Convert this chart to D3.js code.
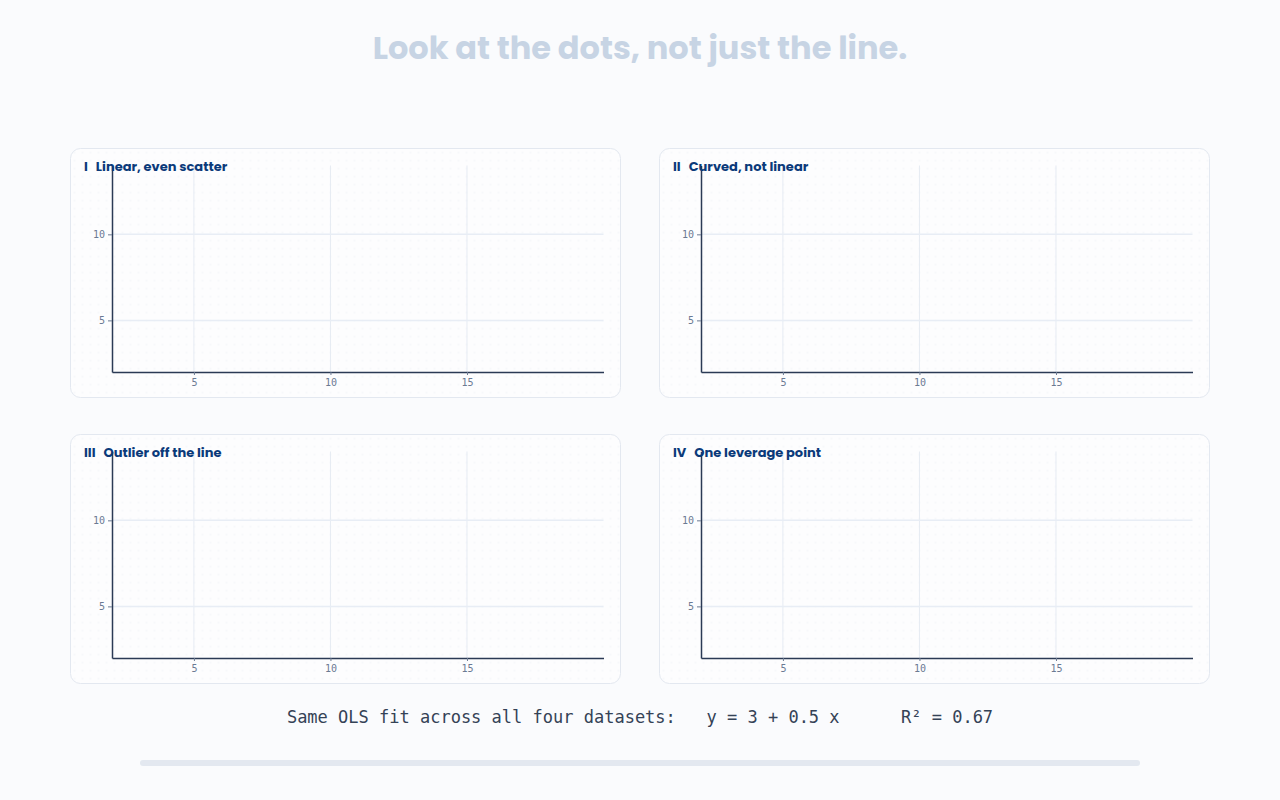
<!DOCTYPE html>
<html>
<head>
<meta charset="utf-8">
<script src="https://cdn.jsdelivr.net/npm/d3@7"></script>
<style>
  html, body { margin: 0; padding: 0; background: #fafbfd; }
  svg { display: block; }
</style>
</head>
<body>
<svg id="chart" width="1280" height="800"></svg>
<script>
// ---- data (Anscombe's quartet) ----
const panelNumerals = ["I", "II", "III", "IV"];
const panelTitles = ["Linear, even scatter", "Curved, not linear", "Outlier off the line", "One leverage point"];
const xI   = [10, 8, 13, 9, 11, 14, 6, 4, 12, 7, 5];
const yI   = [8.04, 6.95, 7.58, 8.81, 8.33, 9.96, 7.24, 4.26, 10.84, 4.82, 5.68];
const xII  = [10, 8, 13, 9, 11, 14, 6, 4, 12, 7, 5];
const yII  = [9.14, 8.14, 8.74, 8.77, 9.26, 8.10, 6.13, 3.10, 9.13, 7.26, 4.74];
const xIII = [10, 8, 13, 9, 11, 14, 6, 4, 12, 7, 5];
const yIII = [7.46, 6.77, 12.74, 7.11, 7.81, 8.84, 6.08, 5.39, 8.15, 6.42, 5.73];
const xIV  = [8, 8, 8, 8, 8, 8, 8, 19, 8, 8, 8];
const yIV  = [6.58, 5.76, 7.71, 8.84, 8.47, 7.04, 5.25, 12.50, 5.56, 7.91, 6.89];
const xTicks = [5, 10, 15];
const yTicks = [5, 10];
const xDomain = [2, 20];
const yDomain = [2, 14];
const titleText = "Look at the dots, not just the line.";
const footerText = "Same OLS fit across all four datasets:   y = 3 + 0.5 x      R\u00B2 = 0.67";

const xsAll = [xI, xII, xIII, xIV];
const ysAll = [yI, yII, yIII, yIV];

const svg = d3.select("#chart");
const defs = svg.append("defs");
const pat = defs.append("pattern").attr("id", "dots")
  .attr("width", 8).attr("height", 8).attr("patternUnits", "userSpaceOnUse");
pat.append("rect").attr("width", 8).attr("height", 8).attr("fill", "#fdfdfe");
pat.append("circle").attr("cx", 4).attr("cy", 4).attr("r", 0.6).attr("fill", "#e6eaf1");

// title
svg.append("text")
  .attr("x", 640).attr("y", 59)
  .attr("text-anchor", "middle")
  .attr("font-family", "Poppins, Inter, Lato, sans-serif")
  .attr("font-weight", 700)
  .attr("font-size", 32)
  .attr("fill", "#c7d4e4")
  .text(titleText);

const panelW = 550, panelH = 249;
const panelPos = [[70.5, 148.5], [659.5, 148.5], [70.5, 434.5], [659.5, 434.5]];
const plotL = 41.5, plotR = 533, plotT = 17, plotB = 223.5;

panelPos.forEach((p, i) => {
  const g = svg.append("g").attr("transform", `translate(${p[0]},${p[1]})`);
  g.append("rect")
    .attr("width", panelW).attr("height", panelH)
    .attr("rx", 10).attr("ry", 10)
    .attr("fill", "url(#dots)")
    .attr("stroke", "#e3e8f0").attr("stroke-width", 1);

  const x = d3.scaleLinear().domain(xDomain).range([plotL, plotR]);
  const y = d3.scaleLinear().domain(yDomain).range([plotB, plotT]);

  // grid
  g.append("g").selectAll("line").data(xTicks).join("line")
    .attr("x1", d => x(d)).attr("x2", d => x(d))
    .attr("y1", plotT).attr("y2", plotB)
    .attr("stroke", "#e6ebf3").attr("stroke-width", 1);
  g.append("g").selectAll("line").data(yTicks).join("line")
    .attr("x1", plotL).attr("x2", plotR)
    .attr("y1", d => y(d)).attr("y2", d => y(d))
    .attr("stroke", "#e8edf5").attr("stroke-width", 1.5);

  // data points (initial state of the reveal: hidden)
  const pts = xsAll[i].map((xv, k) => ({ x: xv, y: ysAll[i][k] }));
  g.append("g").selectAll("circle").data(pts).join("circle")
    .attr("cx", d => x(d.x)).attr("cy", d => y(d.y))
    .attr("r", 5).attr("fill", "#1d4ed8").attr("opacity", 0);

  // axes
  const xAxis = d3.axisBottom(x).tickValues(xTicks).tickSize(3).tickPadding(4).tickSizeOuter(0);
  const yAxis = d3.axisLeft(y).tickValues(yTicks).tickSize(4).tickPadding(3).tickSizeOuter(0);
  const gx = g.append("g").attr("transform", `translate(0,${plotB})`).call(xAxis);
  const gy = g.append("g").attr("transform", `translate(${plotL},0)`).call(yAxis);
  [gx, gy].forEach(ax => {
    ax.select(".domain").attr("stroke", "#2b3a55").attr("stroke-width", 1.5);
    ax.selectAll(".tick line").attr("stroke", "#6b7a93");
    ax.selectAll(".tick text")
      .attr("font-family", "'DejaVu Sans Mono', monospace")
      .attr("font-size", 10)
      .attr("fill", "#6b7a93");
  });

  // panel title
  const t = g.append("text")
    .attr("x", 13.5).attr("y", 22)
    .attr("font-family", "Poppins, Inter, Lato, sans-serif")
    .attr("font-weight", 700)
    .attr("font-size", 13)
    .attr("fill", "#0b3a7a");
  t.append("tspan").text(panelNumerals[i]);
  t.append("tspan").attr("dx", 8).text(panelTitles[i]);
});

// footer
svg.append("text")
  .attr("x", 640).attr("y", 723)
  .attr("text-anchor", "middle")
  .attr("font-family", "'DejaVu Sans Mono', monospace")
  .attr("font-size", 17)
  .attr("fill", "#344256")
  .style("white-space", "pre")
  .text(footerText);

// progress track
svg.append("rect")
  .attr("x", 140).attr("y", 760)
  .attr("width", 1000).attr("height", 6)
  .attr("rx", 3)
  .attr("fill", "#e3e8f0");
</script>
</body>
</html>
